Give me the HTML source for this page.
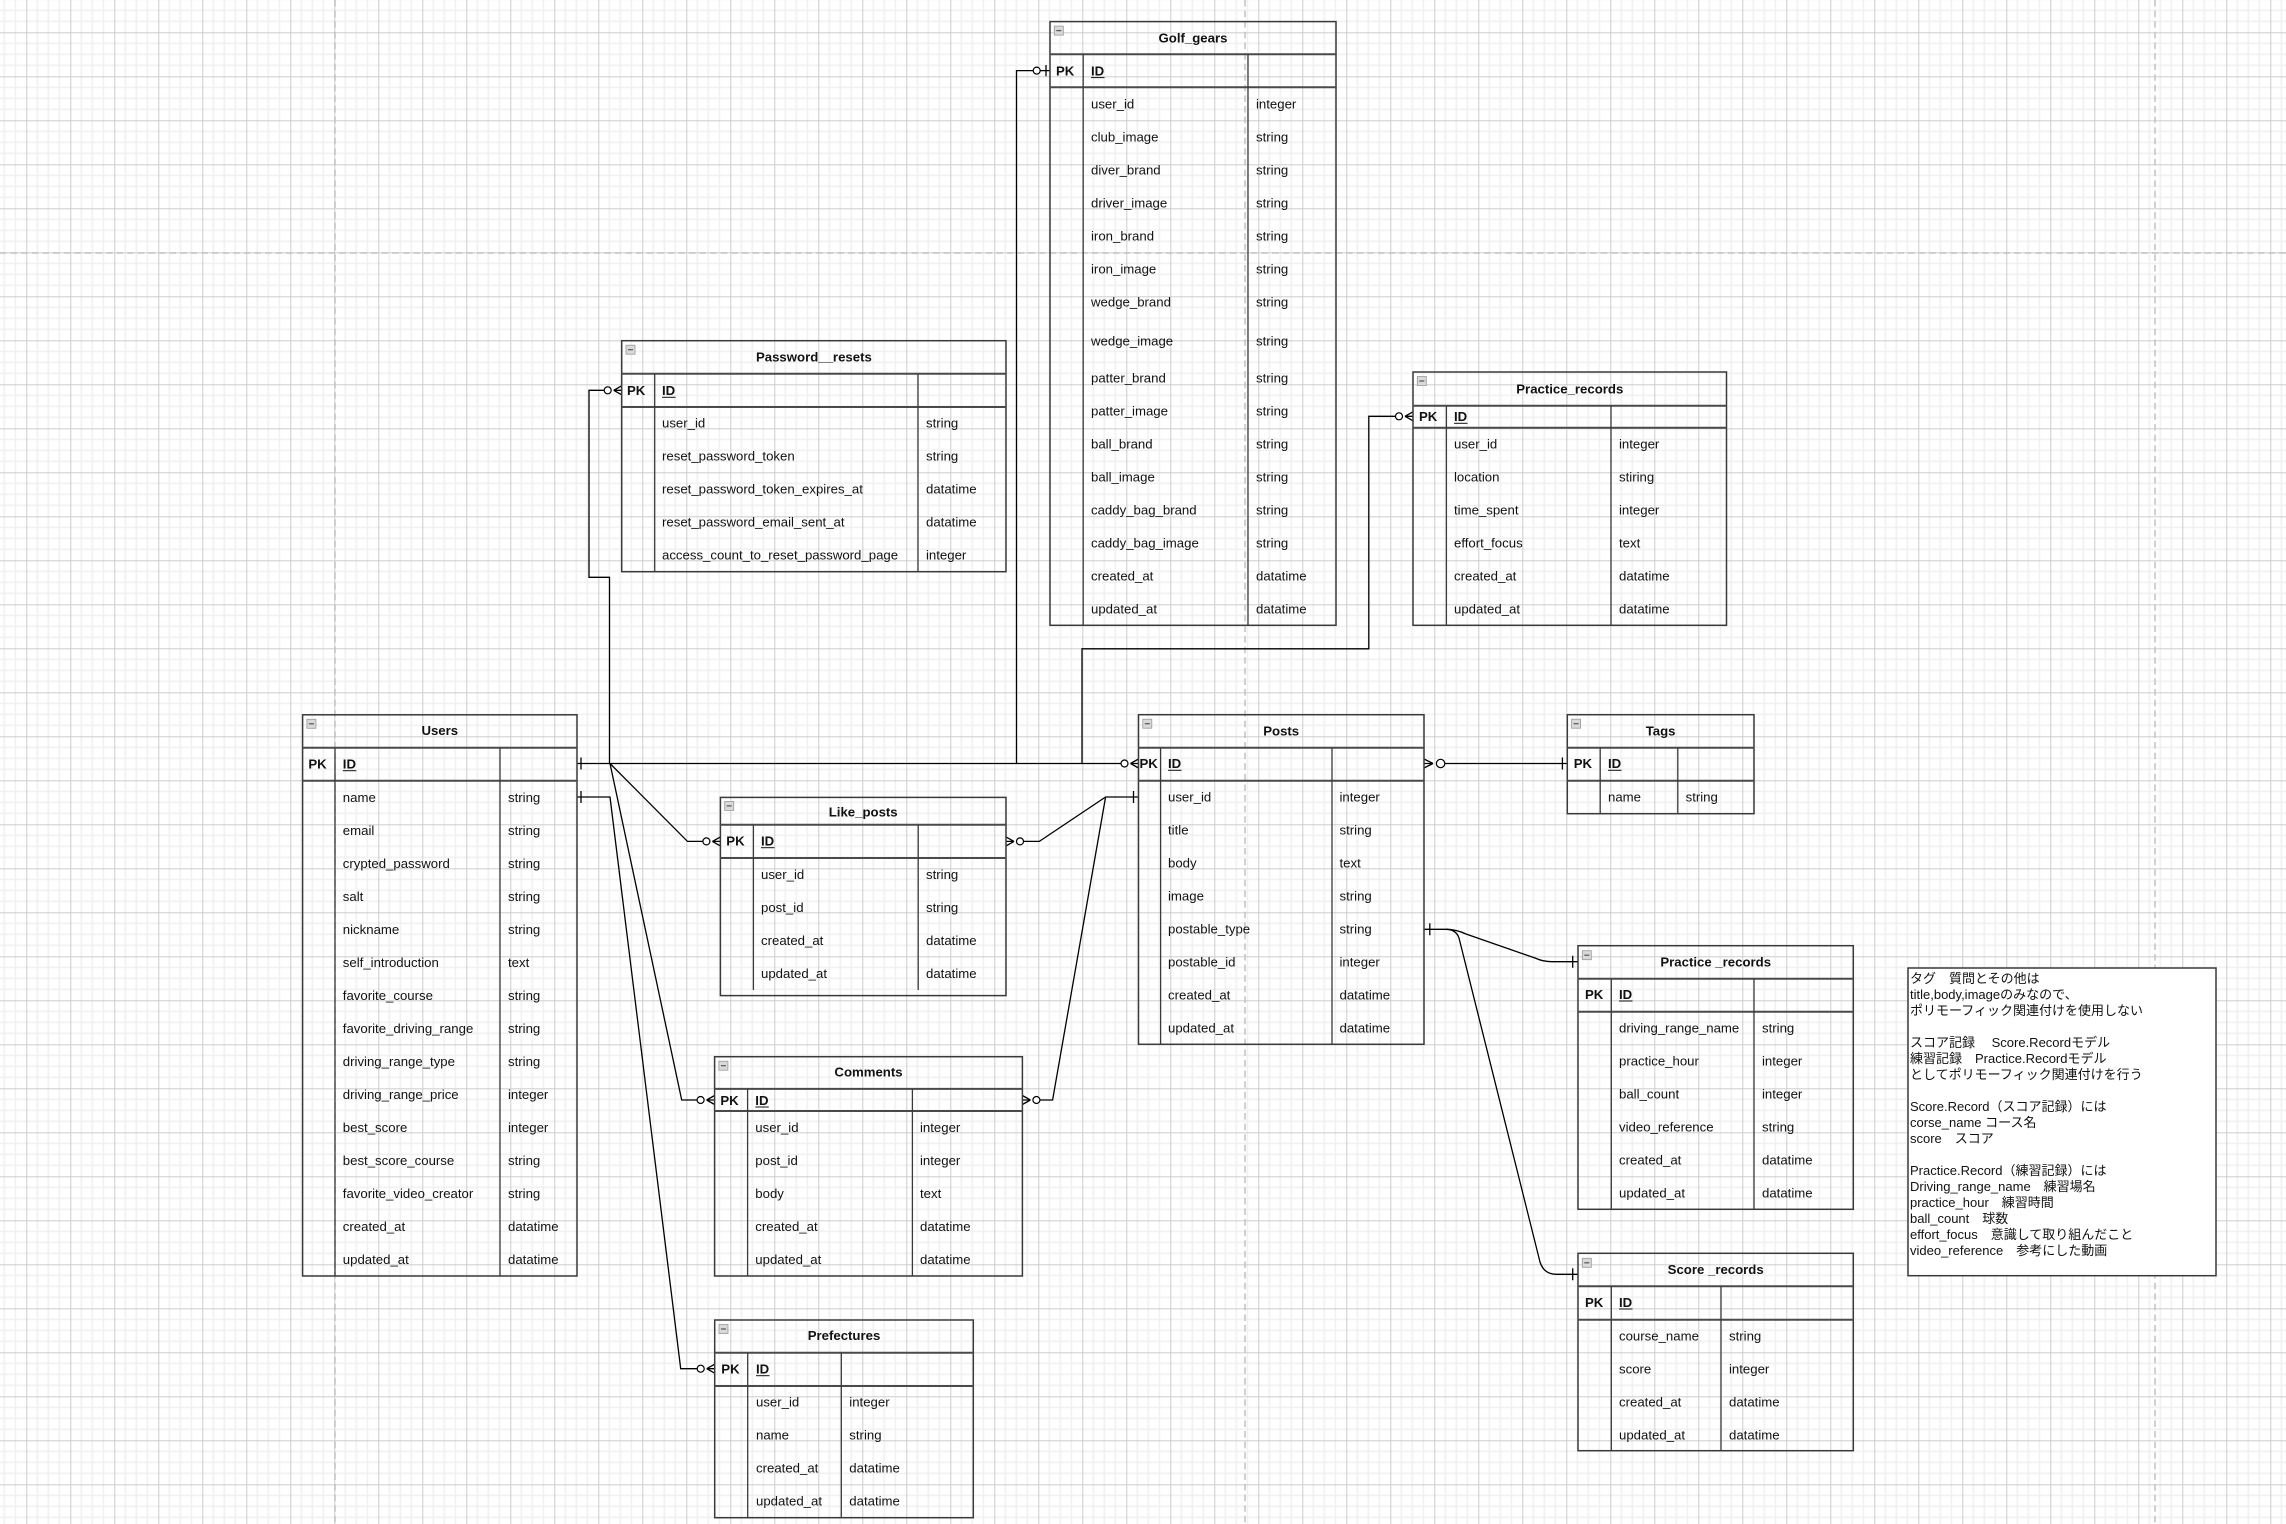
<!DOCTYPE html>
<html><head><meta charset="utf-8"><style>
html,body{margin:0;padding:0;background:#fff;}
body{width:2286px;height:1524px;overflow:hidden;}
svg{display:block;}
.t{font-family:"Liberation Sans","Noto Sans CJK JP",sans-serif;font-size:13.2px;fill:#111;}
.b{font-weight:bold;}
.tb{fill:none;stroke:#3a3a3a;stroke-width:1.5;}
.hl{stroke:#4a4a4a;stroke-width:2;}
.dv{stroke:#3a3a3a;stroke-width:1.3;}
.c{fill:none;stroke:#000;stroke-width:1.3;}
.ci{fill:#fff;stroke:#000;stroke-width:1.2;}
.ic{fill:#d9d9d9;stroke:#9a9a9a;stroke-width:0.8;}
.icl{stroke:#555;stroke-width:1.2;}
.pb{stroke:#c2c2c2;stroke-width:1.5;stroke-dasharray:6.6 4;}
.n{font-family:"Liberation Sans","Noto Sans CJK JP",sans-serif;font-size:13px;fill:#111;white-space:pre;}
</style></head><body>
<svg width="2286" height="1524" viewBox="0 0 2286 1524" xmlns="http://www.w3.org/2000/svg">
<defs>
<pattern id="g" x="26.3" y="32.3" width="44" height="44" patternUnits="userSpaceOnUse">
<path d="M11 0V44M22 0V44M33 0V44M0 11H44M0 22H44M0 33H44" stroke="#f0f0f0" stroke-width="1.5"/>
<path d="M0.5 0V44M0 0.5H44" stroke="#cdcdcd" stroke-width="1"/>
</pattern>
</defs>
<rect width="2286" height="1524" fill="#fff"/>
<rect width="2286" height="1524" fill="url(#g)"/>
<line class="pb" x1="335" y1="0" x2="335" y2="1524"/>
<line class="pb" x1="1245" y1="0" x2="1245" y2="1524"/>
<line class="pb" x1="2155" y1="0" x2="2155" y2="1524"/>
<line class="pb" x1="0" y1="253" x2="2286" y2="253"/>

<!-- Connectors -->
<path class="c" d="M577 763.5H1121"/>
<path class="c" d="M609.5 763.5V577.3H589V390.3H604.2"/>
<path class="c" d="M1016.5 763.5V70.6H1033.2M1040.2 70.6H1050"/>
<path class="c" d="M1082 763.5V648.8H1368.8V416.3H1395.5"/>
<path class="c" d="M610 763.5L687.5 841.4H702.9"/>
<path class="c" d="M610 763.5L681.7 1100H697.1"/>
<path class="c" d="M577 797H610L680.7 1368.7H697.2"/>
<path class="c" d="M1138.5 797H1105.6L1039.3 841.4H1023.5"/>
<path class="c" d="M1105.6 797L1052.6 1100H1039.9"/>
<path class="c" d="M1444.6 763.5H1567.3"/>
<path class="c" d="M1424 929.3H1446Q1456 929.3 1466 934L1535 958Q1543 961.7 1552 961.7H1578"/>
<path class="c" d="M1446 929.3Q1456 929.3 1459 938L1540 1262Q1544 1274.3 1556 1274.3H1578"/>

<!-- one bars -->
<path class="c" d="M581 757.5V769.5M581 791V803M1133.5 791V803M1429.8 923.3V935.3M1562.4 757.5V769.5M1572.7 955.7V967.7M1572.7 1268.3V1280.3M1046 65V76.2"/>
<!-- zero-one circle -->
<circle class="ci" cx="1036.7" cy="70.6" r="3.5"/>
<!-- zero-many left approach -->
<path class="c" d="M613.7 390.3L621.7 385.8M613.7 390.3H621.7M613.7 390.3L621.7 394.8"/>
<circle class="ci" cx="607.7" cy="390.3" r="3.5"/>
<path class="c" d="M1405 416.3L1413 411.8M1405 416.3H1413M1405 416.3L1413 420.8"/>
<circle class="ci" cx="1399" cy="416.3" r="3.5"/>
<path class="c" d="M712.4 841.4L720.4 836.9M712.4 841.4H720.4M712.4 841.4L720.4 845.9"/>
<circle class="ci" cx="706.4" cy="841.4" r="3.5"/>
<path class="c" d="M706.6 1100L714.6 1095.5M706.6 1100H714.6M706.6 1100L714.6 1104.5"/>
<circle class="ci" cx="700.6" cy="1100" r="3.5"/>
<path class="c" d="M706.7 1368.7L714.7 1364.2M706.7 1368.7H714.7M706.7 1368.7L714.7 1373.2"/>
<circle class="ci" cx="700.7" cy="1368.7" r="3.5"/>
<path class="c" d="M1130.5 763.5L1138.5 759M1130.5 763.5H1138.5M1130.5 763.5L1138.5 768"/>
<circle class="ci" cx="1124.5" cy="763.5" r="3.5"/>
<!-- zero-many right approach -->
<path class="c" d="M1014 841.4L1006 836.9M1014 841.4H1006M1014 841.4L1006 845.9"/>
<circle class="ci" cx="1020" cy="841.4" r="3.5"/>
<path class="c" d="M1030.4 1100L1022.4 1095.5M1030.4 1100H1022.4M1030.4 1100L1022.4 1104.5"/>
<circle class="ci" cx="1036.4" cy="1100" r="3.5"/>
<path class="c" d="M1433 763.5L1424 759M1433 763.5H1424M1433 763.5L1424 768"/>
<circle class="ci" cx="1440.6" cy="763.5" r="4.2"/>

<!-- Golf_gears -->
<g>
<rect class="tb" x="1050" y="21.6" width="286" height="603.7"/>
<line class="hl" x1="1050" y1="54.3" x2="1336" y2="54.3"/>
<line class="hl" x1="1050" y1="87.3" x2="1336" y2="87.3"/>
<line class="dv" x1="1083.2" y1="54.3" x2="1083.2" y2="625.3"/>
<line class="dv" x1="1248" y1="54.3" x2="1248" y2="625.3"/>
<rect class="ic" x="1054.3" y="26.1" width="9" height="9"/><line class="icl" x1="1056.3" y1="30.6" x2="1061.3" y2="30.6"/>
<text class="t b" x="1193" y="42.4" text-anchor="middle">Golf_gears</text>
<text class="t b" x="1056" y="75.4">PK</text>
<text class="t b" x="1091" y="75.4">ID</text><line x1="1091" y1="77.6" x2="1104.5" y2="77.6" stroke="#111" stroke-width="1"/>
<text class="t" x="1091" y="108.5">user_id</text><text class="t" x="1256" y="108.5">integer</text>
<text class="t" x="1091" y="141.5">club_image</text><text class="t" x="1256" y="141.5">string</text>
<text class="t" x="1091" y="174.6">diver_brand</text><text class="t" x="1256" y="174.6">string</text>
<text class="t" x="1091" y="207.7">driver_image</text><text class="t" x="1256" y="207.7">string</text>
<text class="t" x="1091" y="240.3">iron_brand</text><text class="t" x="1256" y="240.3">string</text>
<text class="t" x="1091" y="273.4">iron_image</text><text class="t" x="1256" y="273.4">string</text>
<text class="t" x="1091" y="306.4">wedge_brand</text><text class="t" x="1256" y="306.4">string</text>
<text class="t" x="1091" y="345.6">wedge_image</text><text class="t" x="1256" y="345.6">string</text>
<text class="t" x="1091" y="382.4">patter_brand</text><text class="t" x="1256" y="382.4">string</text>
<text class="t" x="1091" y="415.4">patter_image</text><text class="t" x="1256" y="415.4">string</text>
<text class="t" x="1091" y="448.5">ball_brand</text><text class="t" x="1256" y="448.5">string</text>
<text class="t" x="1091" y="481.5">ball_image</text><text class="t" x="1256" y="481.5">string</text>
<text class="t" x="1091" y="514.6">caddy_bag_brand</text><text class="t" x="1256" y="514.6">string</text>
<text class="t" x="1091" y="547.7">caddy_bag_image</text><text class="t" x="1256" y="547.7">string</text>
<text class="t" x="1091" y="580.3">created_at</text><text class="t" x="1256" y="580.3">datatime</text>
<text class="t" x="1091" y="613.4">updated_at</text><text class="t" x="1256" y="613.4">datatime</text>
</g>

<!-- Password__resets -->
<g>
<rect class="tb" x="621.7" y="340.7" width="384.3" height="231"/>
<line class="hl" x1="621.7" y1="373.7" x2="1006" y2="373.7"/>
<line class="hl" x1="621.7" y1="407" x2="1006" y2="407"/>
<line class="dv" x1="654.7" y1="373.7" x2="654.7" y2="571.7"/>
<line class="dv" x1="918" y1="373.7" x2="918" y2="571.7"/>
<rect class="ic" x="626" y="345.2" width="9" height="9"/><line class="icl" x1="628" y1="349.7" x2="633" y2="349.7"/>
<text class="t b" x="813.9" y="361.5" text-anchor="middle">Password__resets</text>
<text class="t b" x="627" y="395.1">PK</text>
<text class="t b" x="662" y="395.1">ID</text><line x1="662" y1="397.3" x2="675.5" y2="397.3" stroke="#111" stroke-width="1"/>
<text class="t" x="662" y="427.5">user_id</text><text class="t" x="926" y="427.5">string</text>
<text class="t" x="662" y="460.5">reset_password_token</text><text class="t" x="926" y="460.5">string</text>
<text class="t" x="662" y="493.5">reset_password_token_expires_at</text><text class="t" x="926" y="493.5">datatime</text>
<text class="t" x="662" y="526.5">reset_password_email_sent_at</text><text class="t" x="926" y="526.5">datatime</text>
<text class="t" x="662" y="559.5">access_count_to_reset_password_page</text><text class="t" x="926" y="559.5">integer</text>
</g>

<!-- Practice_records (top) -->
<g>
<rect class="tb" x="1413" y="372" width="313.5" height="253.3"/>
<line class="hl" x1="1413" y1="405.7" x2="1726.5" y2="405.7"/>
<line class="hl" x1="1413" y1="427.8" x2="1726.5" y2="427.8"/>
<line class="dv" x1="1446.4" y1="405.7" x2="1446.4" y2="625.3"/>
<line class="dv" x1="1611" y1="405.7" x2="1611" y2="625.3"/>
<rect class="ic" x="1417.3" y="376.5" width="9" height="9"/><line class="icl" x1="1419.3" y1="381" x2="1424.3" y2="381"/>
<text class="t b" x="1569.8" y="393.6" text-anchor="middle">Practice_records</text>
<text class="t b" x="1419" y="421.1">PK</text>
<text class="t b" x="1454" y="421.1">ID</text><line x1="1454" y1="423.3" x2="1467.5" y2="423.3" stroke="#111" stroke-width="1"/>
<text class="t" x="1454" y="448.5">user_id</text><text class="t" x="1619" y="448.5">integer</text>
<text class="t" x="1454" y="481.5">location</text><text class="t" x="1619" y="481.5">stiring</text>
<text class="t" x="1454" y="514.6">time_spent</text><text class="t" x="1619" y="514.6">integer</text>
<text class="t" x="1454" y="547.7">effort_focus</text><text class="t" x="1619" y="547.7">text</text>
<text class="t" x="1454" y="580.3">created_at</text><text class="t" x="1619" y="580.3">datatime</text>
<text class="t" x="1454" y="613.4">updated_at</text><text class="t" x="1619" y="613.4">datatime</text>
</g>

<!-- Users -->
<g>
<rect class="tb" x="302.6" y="714.8" width="274.4" height="561.2"/>
<line class="hl" x1="302.6" y1="747.8" x2="577" y2="747.8"/>
<line class="hl" x1="302.6" y1="780.7" x2="577" y2="780.7"/>
<line class="dv" x1="335" y1="747.8" x2="335" y2="1276"/>
<line class="dv" x1="500" y1="747.8" x2="500" y2="1276"/>
<rect class="ic" x="306.9" y="719.3" width="9" height="9"/><line class="icl" x1="308.9" y1="723.8" x2="313.9" y2="723.8"/>
<text class="t b" x="439.8" y="735.2" text-anchor="middle">Users</text>
<text class="t b" x="308.4" y="768.5">PK</text>
<text class="t b" x="342.8" y="768.5">ID</text><line x1="342.8" y1="770.7" x2="356.3" y2="770.7" stroke="#111" stroke-width="1"/>
<text class="t" x="342.8" y="801.8">name</text><text class="t" x="508" y="801.8">string</text>
<text class="t" x="342.8" y="834.8">email</text><text class="t" x="508" y="834.8">string</text>
<text class="t" x="342.8" y="867.8">crypted_password</text><text class="t" x="508" y="867.8">string</text>
<text class="t" x="342.8" y="900.8">salt</text><text class="t" x="508" y="900.8">string</text>
<text class="t" x="342.8" y="933.8">nickname</text><text class="t" x="508" y="933.8">string</text>
<text class="t" x="342.8" y="966.8">self_introduction</text><text class="t" x="508" y="966.8">text</text>
<text class="t" x="342.8" y="999.8">favorite_course</text><text class="t" x="508" y="999.8">string</text>
<text class="t" x="342.8" y="1032.8">favorite_driving_range</text><text class="t" x="508" y="1032.8">string</text>
<text class="t" x="342.8" y="1065.8">driving_range_type</text><text class="t" x="508" y="1065.8">string</text>
<text class="t" x="342.8" y="1098.8">driving_range_price</text><text class="t" x="508" y="1098.8">integer</text>
<text class="t" x="342.8" y="1131.8">best_score</text><text class="t" x="508" y="1131.8">integer</text>
<text class="t" x="342.8" y="1164.8">best_score_course</text><text class="t" x="508" y="1164.8">string</text>
<text class="t" x="342.8" y="1197.8">favorite_video_creator</text><text class="t" x="508" y="1197.8">string</text>
<text class="t" x="342.8" y="1230.8">created_at</text><text class="t" x="508" y="1230.8">datatime</text>
<text class="t" x="342.8" y="1263.8">updated_at</text><text class="t" x="508" y="1263.8">datatime</text>
</g>

<!-- Posts -->
<g>
<rect class="tb" x="1138.5" y="714.7" width="285.5" height="329.6"/>
<line class="hl" x1="1138.5" y1="747.7" x2="1424" y2="747.7"/>
<line class="hl" x1="1138.5" y1="780.7" x2="1424" y2="780.7"/>
<line class="dv" x1="1160.6" y1="747.7" x2="1160.6" y2="1044.3"/>
<line class="dv" x1="1332" y1="747.7" x2="1332" y2="1044.3"/>
<rect class="ic" x="1142.8" y="719.2" width="9" height="9"/><line class="icl" x1="1144.8" y1="723.7" x2="1149.8" y2="723.7"/>
<text class="t b" x="1281.2" y="735.5" text-anchor="middle">Posts</text>
<text class="t b" x="1139.5" y="768.1">PK</text>
<text class="t b" x="1168" y="768.1">ID</text><line x1="1168" y1="770.3" x2="1181.5" y2="770.3" stroke="#111" stroke-width="1"/>
<text class="t" x="1168" y="801.5">user_id</text><text class="t" x="1339.5" y="801.5">integer</text>
<text class="t" x="1168" y="834.5">title</text><text class="t" x="1339.5" y="834.5">string</text>
<text class="t" x="1168" y="867.5">body</text><text class="t" x="1339.5" y="867.5">text</text>
<text class="t" x="1168" y="900.5">image</text><text class="t" x="1339.5" y="900.5">string</text>
<text class="t" x="1168" y="933.5">postable_type</text><text class="t" x="1339.5" y="933.5">string</text>
<text class="t" x="1168" y="966.5">postable_id</text><text class="t" x="1339.5" y="966.5">integer</text>
<text class="t" x="1168" y="999.5">created_at</text><text class="t" x="1339.5" y="999.5">datatime</text>
<text class="t" x="1168" y="1032.5">updated_at</text><text class="t" x="1339.5" y="1032.5">datatime</text>
</g>

<!-- Tags -->
<g>
<rect class="tb" x="1567.3" y="714.7" width="186.7" height="99"/>
<line class="hl" x1="1567.3" y1="747.7" x2="1754" y2="747.7"/>
<line class="hl" x1="1567.3" y1="780.7" x2="1754" y2="780.7"/>
<line class="dv" x1="1600.2" y1="747.7" x2="1600.2" y2="813.7"/>
<line class="dv" x1="1677.8" y1="747.7" x2="1677.8" y2="813.7"/>
<rect class="ic" x="1571.6" y="719.2" width="9" height="9"/><line class="icl" x1="1573.6" y1="723.7" x2="1578.6" y2="723.7"/>
<text class="t b" x="1660.6" y="735.5" text-anchor="middle">Tags</text>
<text class="t b" x="1573.7" y="768.1">PK</text>
<text class="t b" x="1608" y="768.1">ID</text><line x1="1608" y1="770.3" x2="1621.5" y2="770.3" stroke="#111" stroke-width="1"/>
<text class="t" x="1608" y="801.5">name</text><text class="t" x="1685.6" y="801.5">string</text>
</g>

<!-- Like_posts -->
<g>
<rect class="tb" x="720.4" y="797.4" width="285.6" height="198.2"/>
<line class="hl" x1="720.4" y1="824.8" x2="1006" y2="824.8"/>
<line class="hl" x1="720.4" y1="858" x2="1006" y2="858"/>
<line class="dv" x1="753.4" y1="824.8" x2="753.4" y2="990"/>
<line class="dv" x1="918.2" y1="824.8" x2="918.2" y2="990"/>
<rect class="ic" x="724.7" y="801.4" width="9" height="9"/><line class="icl" x1="726.7" y1="805.9" x2="731.7" y2="805.9"/>
<text class="t b" x="863.2" y="816.3" text-anchor="middle">Like_posts</text>
<text class="t b" x="726.3" y="845.5">PK</text>
<text class="t b" x="761" y="845.5">ID</text><line x1="761" y1="847.7" x2="774.5" y2="847.7" stroke="#111" stroke-width="1"/>
<text class="t" x="761" y="878.8">user_id</text><text class="t" x="926" y="878.8">string</text>
<text class="t" x="761" y="911.8">post_id</text><text class="t" x="926" y="911.8">string</text>
<text class="t" x="761" y="944.8">created_at</text><text class="t" x="926" y="944.8">datatime</text>
<text class="t" x="761" y="977.8">updated_at</text><text class="t" x="926" y="977.8">datatime</text>
</g>

<!-- Comments -->
<g>
<rect class="tb" x="714.6" y="1056.7" width="307.8" height="219.3"/>
<line class="hl" x1="714.6" y1="1088.9" x2="1022.4" y2="1088.9"/>
<line class="hl" x1="714.6" y1="1111" x2="1022.4" y2="1111"/>
<line class="dv" x1="747.6" y1="1088.9" x2="747.6" y2="1276"/>
<line class="dv" x1="912.4" y1="1088.9" x2="912.4" y2="1276"/>
<rect class="ic" x="718.9" y="1061.2" width="9" height="9"/><line class="icl" x1="720.9" y1="1065.7" x2="725.9" y2="1065.7"/>
<text class="t b" x="868.5" y="1076.7" text-anchor="middle">Comments</text>
<text class="t b" x="720.4" y="1104.8">PK</text>
<text class="t b" x="755.3" y="1104.8">ID</text><line x1="755.3" y1="1107" x2="768.8" y2="1107" stroke="#111" stroke-width="1"/>
<text class="t" x="755.3" y="1131.8">user_id</text><text class="t" x="920" y="1131.8">integer</text>
<text class="t" x="755.3" y="1164.8">post_id</text><text class="t" x="920" y="1164.8">integer</text>
<text class="t" x="755.3" y="1197.8">body</text><text class="t" x="920" y="1197.8">text</text>
<text class="t" x="755.3" y="1230.8">created_at</text><text class="t" x="920" y="1230.8">datatime</text>
<text class="t" x="755.3" y="1263.8">updated_at</text><text class="t" x="920" y="1263.8">datatime</text>
</g>

<!-- Prefectures -->
<g>
<rect class="tb" x="714.7" y="1320" width="258.6" height="197.7"/>
<line class="hl" x1="714.7" y1="1352.7" x2="973.3" y2="1352.7"/>
<line class="hl" x1="714.7" y1="1386" x2="973.3" y2="1386"/>
<line class="dv" x1="747.7" y1="1352.7" x2="747.7" y2="1517.7"/>
<line class="dv" x1="841.3" y1="1352.7" x2="841.3" y2="1517.7"/>
<rect class="ic" x="719" y="1324.5" width="9" height="9"/><line class="icl" x1="721" y1="1329" x2="726" y2="1329"/>
<text class="t b" x="844" y="1340.1" text-anchor="middle">Prefectures</text>
<text class="t b" x="721.3" y="1373.5">PK</text>
<text class="t b" x="756" y="1373.5">ID</text><line x1="756" y1="1375.7" x2="769.5" y2="1375.7" stroke="#111" stroke-width="1"/>
<text class="t" x="756" y="1406.5">user_id</text><text class="t" x="849.3" y="1406.5">integer</text>
<text class="t" x="756" y="1439.5">name</text><text class="t" x="849.3" y="1439.5">string</text>
<text class="t" x="756" y="1472.5">created_at</text><text class="t" x="849.3" y="1472.5">datatime</text>
<text class="t" x="756" y="1505.5">updated_at</text><text class="t" x="849.3" y="1505.5">datatime</text>
</g>

<!-- Practice _records (lower) -->
<g>
<rect class="tb" x="1578" y="945.7" width="275.3" height="263.6"/>
<line class="hl" x1="1578" y1="978.7" x2="1853.3" y2="978.7"/>
<line class="hl" x1="1578" y1="1011.7" x2="1853.3" y2="1011.7"/>
<line class="dv" x1="1611.3" y1="978.7" x2="1611.3" y2="1209.3"/>
<line class="dv" x1="1754" y1="978.7" x2="1754" y2="1209.3"/>
<rect class="ic" x="1582.3" y="950.7" width="9" height="9"/><line class="icl" x1="1584.3" y1="955.2" x2="1589.3" y2="955.2"/>
<text class="t b" x="1715.7" y="966.5" text-anchor="middle">Practice _records</text>
<text class="t b" x="1585" y="998.8">PK</text>
<text class="t b" x="1619" y="998.8">ID</text><line x1="1619" y1="1001" x2="1632.5" y2="1001" stroke="#111" stroke-width="1"/>
<text class="t" x="1619" y="1032.5">driving_range_name</text><text class="t" x="1762" y="1032.5">string</text>
<text class="t" x="1619" y="1065.5">practice_hour</text><text class="t" x="1762" y="1065.5">integer</text>
<text class="t" x="1619" y="1098.5">ball_count</text><text class="t" x="1762" y="1098.5">integer</text>
<text class="t" x="1619" y="1131.5">video_reference</text><text class="t" x="1762" y="1131.5">string</text>
<text class="t" x="1619" y="1164.5">created_at</text><text class="t" x="1762" y="1164.5">datatime</text>
<text class="t" x="1619" y="1197.5">updated_at</text><text class="t" x="1762" y="1197.5">datatime</text>
</g>

<!-- Score _records -->
<g>
<rect class="tb" x="1578" y="1253.3" width="275.3" height="197.4"/>
<line class="hl" x1="1578" y1="1286.3" x2="1853.3" y2="1286.3"/>
<line class="hl" x1="1578" y1="1319.7" x2="1853.3" y2="1319.7"/>
<line class="dv" x1="1611.3" y1="1286.3" x2="1611.3" y2="1450.7"/>
<line class="dv" x1="1721" y1="1286.3" x2="1721" y2="1450.7"/>
<rect class="ic" x="1582.3" y="1258.3" width="9" height="9"/><line class="icl" x1="1584.3" y1="1262.8" x2="1589.3" y2="1262.8"/>
<text class="t b" x="1715.7" y="1274.1" text-anchor="middle">Score _records</text>
<text class="t b" x="1585" y="1306.8">PK</text>
<text class="t b" x="1619" y="1306.8">ID</text><line x1="1619" y1="1309" x2="1632.5" y2="1309" stroke="#111" stroke-width="1"/>
<text class="t" x="1619" y="1340.5">course_name</text><text class="t" x="1729" y="1340.5">string</text>
<text class="t" x="1619" y="1373.5">score</text><text class="t" x="1729" y="1373.5">integer</text>
<text class="t" x="1619" y="1406.5">created_at</text><text class="t" x="1729" y="1406.5">datatime</text>
<text class="t" x="1619" y="1439.5">updated_at</text><text class="t" x="1729" y="1439.5">datatime</text>
</g>

<!-- Note -->
<rect x="1908" y="968" width="308" height="307.7" fill="#fff" stroke="#3a3a3a" stroke-width="1.5"/>
<text class="n" x="1910" y="983">タグ　質問とその他は</text>
<text class="n" x="1910" y="999">title,body,imageのみなので、</text>
<text class="n" x="1910" y="1015">ポリモーフィック関連付けを使用しない</text>
<text class="n" x="1910" y="1047">スコア記録　 Score.Recordモデル</text>
<text class="n" x="1910" y="1063">練習記録　Practice.Recordモデル</text>
<text class="n" x="1910" y="1079">としてポリモーフィック関連付けを行う</text>
<text class="n" x="1910" y="1111">Score.Record（スコア記録）には</text>
<text class="n" x="1910" y="1127">corse_name コース名</text>
<text class="n" x="1910" y="1143">score　スコア</text>
<text class="n" x="1910" y="1175">Practice.Record（練習記録）には</text>
<text class="n" x="1910" y="1191">Driving_range_name　練習場名</text>
<text class="n" x="1910" y="1207">practice_hour　練習時間</text>
<text class="n" x="1910" y="1223">ball_count　球数</text>
<text class="n" x="1910" y="1239">effort_focus　意識して取り組んだこと</text>
<text class="n" x="1910" y="1255">video_reference　参考にした動画</text>
</svg>
</body></html>
